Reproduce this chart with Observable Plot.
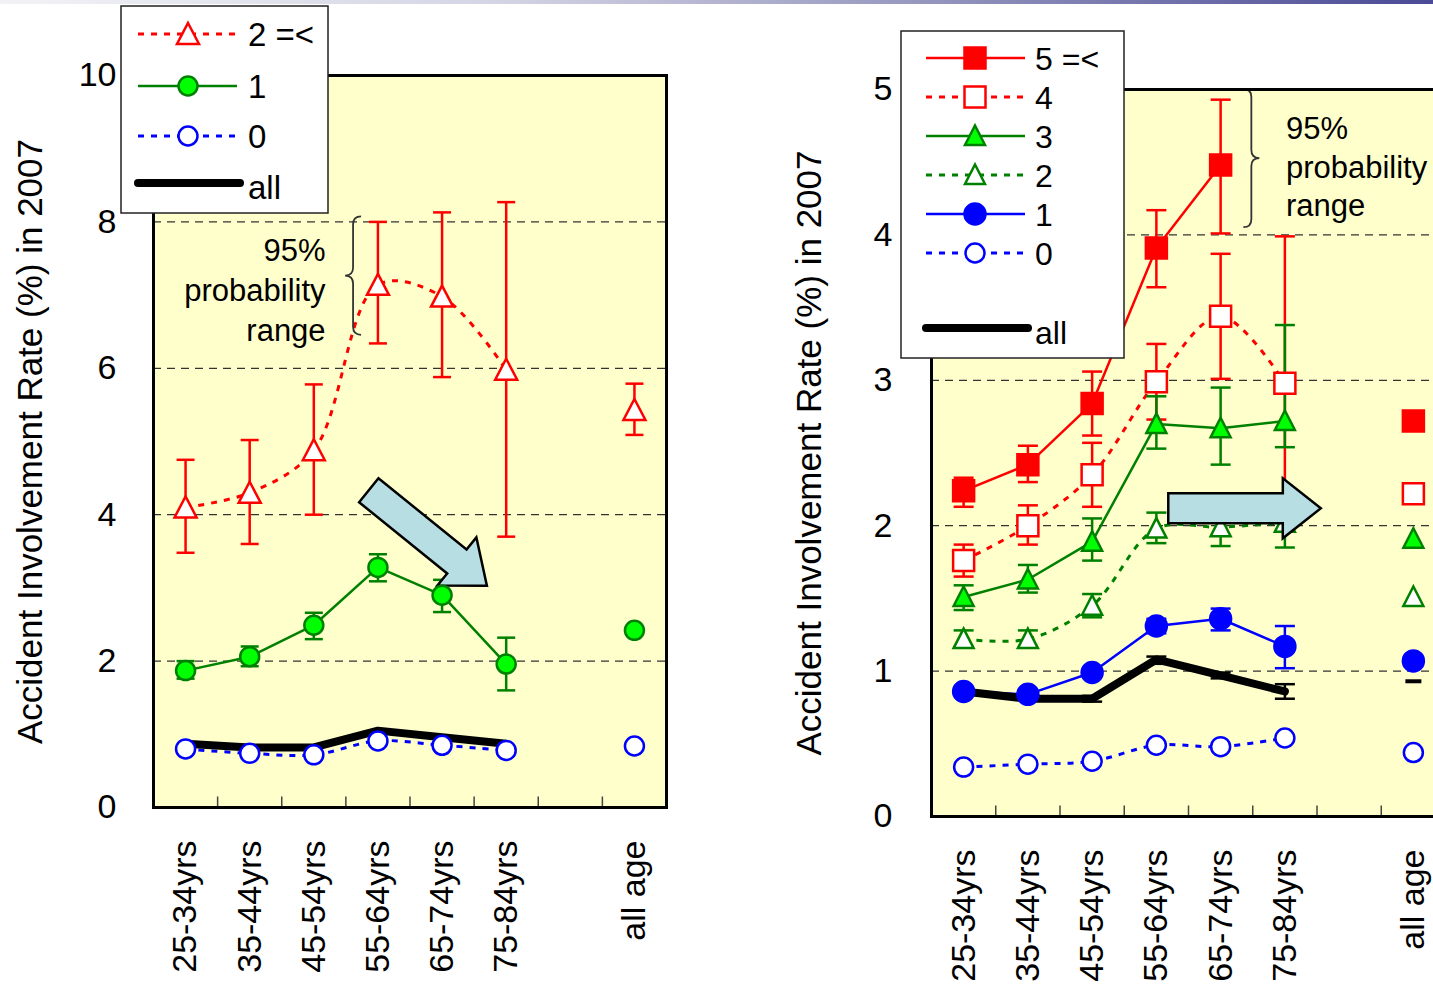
<!DOCTYPE html>
<html>
<head>
<meta charset="utf-8">
<script src="https://cdn.jsdelivr.net/npm/d3@7"></script>
<script src="https://cdn.jsdelivr.net/npm/@observablehq/plot@0.6"></script>
<style>
  html, body { margin: 0; padding: 0; background: white; overflow: hidden; }
  #wrap { position: relative; width: 1433px; height: 987px; overflow: hidden; font-family: "Liberation Sans", Arial, sans-serif; }
  #wrap > svg, #wrap > div { position: absolute; }
  #topbar { left: 0; top: 0; width: 1433px; height: 4px; z-index: 10;
    background: linear-gradient(to right, #f2f2f6 0%, #d4d4e4 35%, #8a8ab8 70%, #4a4a96 100%); }
</style>
</head>
<body>
<div id="wrap"><div id="topbar"></div></div>
<script>
// ---------------- DATA ----------------
const slots = ["25-34yrs", "35-44yrs", "45-54yrs", "55-64yrs", "65-74yrs", "75-84yrs", "", "all age"];
const yTitle = "Accident Involvement Rate (%) in 2007";
const noteText = "95%\nprobability\nrange";

// Left panel (violations: 2 =<, 1, 0, all)
const leftNames = ["2 =<", "1", "0", "all"];
const leftYTicks = [0, 2, 4, 6, 8, 10];
const leftGrid = [2, 4, 6, 8];
const l2Rate = [4.10, 4.30, 4.88, 7.14, 6.98, 5.98, null, 5.43];
const l2Lo   = [3.48, 3.60, 4.00, 6.34, 5.88, 3.70, null, 5.09];
const l2Hi   = [4.75, 5.02, 5.78, 8.00, 8.13, 8.27, null, 5.79];
const l1Rate = [1.87, 2.06, 2.49, 3.28, 2.90, 1.96, null, 2.42];
const l1Lo   = [1.76, 1.93, 2.30, 3.09, 2.67, 1.60, null, null];
const l1Hi   = [2.00, 2.20, 2.66, 3.46, 3.11, 2.32, null, null];
const l0Rate = [0.80, 0.74, 0.72, 0.91, 0.85, 0.78, null, 0.84];
const lAllRate = [0.87, 0.82, 0.82, 1.05, 0.96, 0.87, null, null];

// Right panel (5 =<, 4, 3, 2, 1, 0, all)
const rightNames = ["5 =<", "4", "3", "2", "1", "0", "all"];
const rightYTicks = [0, 1, 2, 3, 4, 5];
const rightGrid = [1, 2, 3, 4];
const r5Rate = [2.24, 2.42, 2.84, 3.91, 4.48, null, null, 2.72];
const r5Lo   = [2.13, 2.30, 2.62, 3.64, 4.01, null, null, null];
const r5Hi   = [2.33, 2.55, 3.06, 4.17, 4.93, null, null, null];
const r4Rate = [1.76, 2.00, 2.35, 2.99, 3.44, 2.98, null, 2.22];
const r4Lo   = [1.65, 1.87, 2.13, 2.73, 3.01, 1.97, null, null];
const r4Hi   = [1.87, 2.14, 2.57, 3.25, 3.87, 3.99, null, null];
const r3Rate = [1.51, 1.63, 1.89, 2.70, 2.67, 2.72, null, 1.91];
const r3Lo   = [1.42, 1.54, 1.76, 2.53, 2.42, 2.54, null, null];
const r3Hi   = [1.59, 1.73, 2.05, 2.89, 2.95, 3.38, null, null];
const r2Rate = [1.22, 1.22, 1.45, 1.98, 1.99, 2.02, null, 1.51];
const r2Lo   = [1.17, 1.17, 1.37, 1.88, 1.86, 1.85, null, null];
const r2Hi   = [1.28, 1.28, 1.53, 2.09, 2.12, 2.17, null, null];
const r1Rate = [0.86, 0.84, 0.99, 1.31, 1.36, 1.17, null, 1.07];
const r1Lo   = [null, null, null, 1.26, 1.28, 1.02, null, null];
const r1Hi   = [null, null, null, 1.36, 1.43, 1.31, null, null];
const r0Rate = [0.34, 0.36, 0.38, 0.49, 0.48, 0.54, null, 0.44];
const rAllRate = [0.86, 0.81, 0.81, 1.08, 0.97, 0.86, null, 0.93];
const rAllLo   = [null, null, 0.79, 1.05, 0.95, 0.81, null, null];
const rAllHi   = [null, null, 0.83, 1.10, 0.99, 0.91, null, null];

// ---------------- STYLES / SYMBOLS ----------------
const FONT = '"Liberation Sans", Arial, sans-serif';
const RED = "#FF0000", DGREEN = "#008000", LGREEN = "#00FF00", BLUE = "#0000FF";
const DOTS = "6,7";
const makeTri = (hw, top, bot) => ({draw(c) { c.moveTo(0, -top); c.lineTo(hw, bot); c.lineTo(-hw, bot); c.closePath(); }});
const makeSquare = (h) => ({draw(c) { c.moveTo(-h, -h); c.lineTo(h, -h); c.lineTo(h, h); c.lineTo(-h, h); c.closePath(); }});
const makeCircle = (r) => ({draw(c) { c.moveTo(r, 0); c.arc(0, 0, r, 0, 2 * Math.PI); c.closePath(); }});
const makeHBar = (h) => ({draw(c) { c.moveTo(-h, 0); c.lineTo(h, 0); }});
const makeVTick = (len) => ({draw(c) { c.moveTo(0, 0); c.lineTo(0, -len); }});

const triL = makeTri(11, 11, 10), circL = makeCircle(9.5), capL = makeHBar(9);
const triR = makeTri(10, 10.5, 9), sqR = makeSquare(10.5), circRF = makeCircle(10.5), circRH = makeCircle(9.5), capR = makeHBar(10);
const dashR = makeHBar(8);
const vtick = makeVTick(11);

const leftSeries = [
  {name: leftNames[0], rate: l2Rate, lo: l2Lo, hi: l2Hi, color: RED, dash: DOTS, width: 3, curve: "catmull-rom", sym: triL, fill: "white", mstroke: RED},
  {name: leftNames[1], rate: l1Rate, lo: l1Lo, hi: l1Hi, color: DGREEN, dash: null, width: 2.5, curve: "linear", sym: circL, fill: LGREEN, mstroke: DGREEN},
  {name: leftNames[2], rate: l0Rate, color: BLUE, dash: DOTS, width: 3, curve: "catmull-rom", sym: circL, fill: "white", mstroke: BLUE},
  {name: leftNames[3], rate: lAllRate, color: "black", dash: null, width: 8, curve: "linear", sym: null}
];
const rightSeries = [
  {name: rightNames[0], rate: r5Rate, lo: r5Lo, hi: r5Hi, color: RED, dash: null, width: 2.5, curve: "linear", sym: sqR, fill: RED, mstroke: RED},
  {name: rightNames[1], rate: r4Rate, lo: r4Lo, hi: r4Hi, color: RED, dash: DOTS, width: 3, curve: "catmull-rom", sym: sqR, fill: "white", mstroke: RED},
  {name: rightNames[2], rate: r3Rate, lo: r3Lo, hi: r3Hi, color: DGREEN, dash: null, width: 2.5, curve: "linear", sym: triR, fill: LGREEN, mstroke: DGREEN},
  {name: rightNames[3], rate: r2Rate, lo: r2Lo, hi: r2Hi, color: DGREEN, dash: DOTS, width: 3, curve: "catmull-rom", sym: triR, fill: "white", mstroke: DGREEN},
  {name: rightNames[4], rate: r1Rate, lo: r1Lo, hi: r1Hi, color: BLUE, dash: null, width: 2.5, curve: "linear", sym: circRF, fill: BLUE, mstroke: BLUE},
  {name: rightNames[5], rate: r0Rate, color: BLUE, dash: DOTS, width: 3, curve: "catmull-rom", sym: circRH, fill: "white", mstroke: BLUE},
  {name: rightNames[6], rate: rAllRate, lo: rAllLo, hi: rAllHi, color: "black", dash: null, width: 8, curve: "linear", sym: null, allSym: dashR, fill: "none", mstroke: "black", mwidth: 4}
];

// ---------------- HELPERS ----------------
function findScales(args) {
  return args.find(a => a && typeof a === "object" && !Array.isArray(a) && typeof a.x === "function" && typeof a.y === "function");
}
function arrowMark(tail, tip, o) {
  return function(...args) {
    const s = findScales(args); if (!s) return null;
    const x0 = s.x(tail[0]), y0 = s.y(tail[1]), x1 = s.x(tip[0]), y1 = s.y(tip[1]);
    const dx = x1 - x0, dy = y1 - y0, L = Math.hypot(dx, dy), ux = dx / L, uy = dy / L, nx = -uy, ny = ux;
    const bx = x1 - ux * o.headLen, by = y1 - uy * o.headLen;
    const pts = [
      [x0 + nx * o.shaft, y0 + ny * o.shaft], [bx + nx * o.shaft, by + ny * o.shaft],
      [bx + nx * o.head, by + ny * o.head], [x1, y1],
      [bx - nx * o.head, by - ny * o.head], [bx - nx * o.shaft, by - ny * o.shaft],
      [x0 - nx * o.shaft, y0 - ny * o.shaft]
    ];
    return d3.create("svg:path").attr("d", "M" + pts.map(p => p.join(",")).join("L") + "Z")
      .attr("fill", "#B7DEE3").attr("stroke", "black").attr("stroke-width", 2.5).attr("stroke-linejoin", "miter").node();
  };
}
function braceMark(xv, ytop, ybot, dir) {
  return function(...args) {
    const s = findScales(args); if (!s) return null;
    const x = s.x(xv), y1 = s.y(ytop), y2 = s.y(ybot), ym = (y1 + y2) / 2, w = 8;
    const d = `M${x - dir * w},${y1} Q${x},${y1} ${x},${y1 + w} L${x},${ym - w} Q${x},${ym} ${x + dir * w},${ym}` +
              ` Q${x},${ym} ${x},${ym + w} L${x},${y2 - w} Q${x},${y2} ${x - dir * w},${y2}`;
    return d3.create("svg:path").attr("d", d).attr("fill", "none").attr("stroke", "#333").attr("stroke-width", 1.8).node();
  };
}
function seriesLayers(series, cap) {
  const lines = [], bars = [], markers = [];
  for (const s of series) {
    const rows = slots.map((slot, i) => ({i, slot, v: s.rate[i] ?? null, lo: s.lo ? s.lo[i] ?? null : null, hi: s.hi ? s.hi[i] ?? null : null}));
    lines.push(Plot.line(rows.filter(r => r.i < 6), {
      x: "i", y: "v", stroke: s.color, strokeWidth: s.width, curve: s.curve,
      strokeDasharray: s.dash || undefined, strokeLinecap: s.dash ? "butt" : "round", strokeLinejoin: "round"
    }));
    const br = rows.filter(r => r.lo != null && r.hi != null);
    if (br.length) {
      bars.push(Plot.ruleX(br, {x: "i", y1: "lo", y2: "hi", stroke: s.color, strokeWidth: 2.5}));
      bars.push(Plot.dot(br, {x: "i", y: "lo", symbol: cap, fill: "none", stroke: s.color, strokeWidth: 2.5}));
      bars.push(Plot.dot(br, {x: "i", y: "hi", symbol: cap, fill: "none", stroke: s.color, strokeWidth: 2.5}));
    }
    if (s.sym) {
      markers.push(Plot.dot(rows.filter(r => r.v != null), {x: "i", y: "v", symbol: s.sym, fill: s.fill, stroke: s.mstroke, strokeWidth: 2.5}));
    } else if (s.allSym) {
      markers.push(Plot.dot(rows.filter(r => r.v != null && r.i === 7), {x: "i", y: "v", symbol: s.allSym, fill: "none", stroke: s.mstroke, strokeWidth: s.mwidth}));
    }
  }
  return {lines, bars, markers};
}
function panel(cfg) {
  const L = seriesLayers(cfg.series, cfg.cap);
  const marks = [
    Plot.frame({fill: "#FFFFCC", stroke: "none"}),
    Plot.ruleY(cfg.grid, {stroke: "#333", strokeDasharray: "8,6", strokeWidth: 1.2}),
    Plot.dot(slots.slice(0, -1), {x: (d, i) => i + 0.5, frameAnchor: "bottom", symbol: vtick, fill: "none", stroke: "#444", strokeWidth: 1.5}),
    ...L.lines, ...L.bars,
    ...(cfg.arrowBelow ? [cfg.arrow] : []),
    ...L.markers,
    ...(cfg.arrowBelow ? [] : [cfg.arrow]),
    cfg.brace,
    Plot.text([noteText], {x: cfg.note[0], y: cfg.note[1], text: d => d, textAnchor: cfg.noteAnchor, lineAnchor: "middle", lineHeight: cfg.noteLH, fontSize: 31}),
    Plot.text(slots, {x: (d, i) => i, frameAnchor: "bottom", text: d => d, rotate: -90, textAnchor: "end", lineAnchor: "middle", dy: 33, fontSize: 34}),
    Plot.text([yTitle], {frameAnchor: "left", text: d => d, rotate: -90, textAnchor: "middle", lineAnchor: "middle", dx: cfg.titleDx, fontSize: 35}),
    Plot.frame({stroke: "black", strokeWidth: 3})
  ];
  const svg = Plot.plot({
    width: cfg.width, height: 987,
    marginLeft: cfg.ml, marginRight: cfg.mr, marginTop: cfg.mt, marginBottom: cfg.mb,
    style: {fontFamily: FONT, fontSize: "34px", color: "black", background: "transparent", overflow: "visible"},
    x: {domain: [-0.5, 7.5], axis: null},
    y: {domain: cfg.ydomain, ticks: cfg.yticks, tickSize: 0, tickPadding: cfg.tickPad, label: null, tickFormat: d => String(d)},
    marks
  });
  svg.style.left = cfg.left + "px";
  svg.style.top = "0px";
  return svg;
}

const wrap = document.getElementById("wrap");
wrap.appendChild(panel({
  series: leftSeries, cap: capL, grid: leftGrid, yticks: leftYTicks, ydomain: [0, 10],
  width: 720, left: 0, ml: 153, mr: 54, mt: 75, mb: 180, tickPad: 37, titleDx: -123,
  arrow: arrowMark([2.865, 4.327], [4.707, 3.023], {shaft: 15.4, head: 31, headLen: 38.6}), arrowBelow: true,
  brace: braceMark(2.62, 8.07, 6.45, -1),
  note: [2.184, 7.09], noteAnchor: "end", noteLH: 1.29
}));
wrap.appendChild(panel({
  series: rightSeries, cap: capR, grid: rightGrid, yticks: rightYTicks, ydomain: [0, 5],
  width: 720, left: 740, ml: 191, mr: 15, mt: 89, mb: 171, tickPad: 39, titleDx: -122,
  arrow: arrowMark([3.193, 2.117], [5.567, 2.116], {shaft: 15, head: 30, headLen: 38}), arrowBelow: false,
  brace: braceMark(4.486, 5.0, 4.05, 1),
  note: [5.016, 4.48], noteAnchor: "start", noteLH: 1.25
}));

// ---------------- LEGENDS ----------------
const leg = d3.select(wrap).append("svg").attr("width", 1433).attr("height", 987).style("left", "0px").style("top", "0px").style("z-index", 5);
function legend(series, box, ys, lx1, lx2, mx, tx, fontSize) {
  const g = leg.append("g").attr("font-family", FONT).attr("font-size", fontSize);
  g.append("rect").attr("x", box[0]).attr("y", box[1]).attr("width", box[2]).attr("height", box[3])
    .attr("fill", "white").attr("stroke", "#222").attr("stroke-width", 1.5);
  series.forEach((s, k) => {
    const y = ys[k];
    if (s.sym) {
      g.append("line").attr("x1", lx1).attr("x2", lx2).attr("y1", y).attr("y2", y)
        .attr("stroke", s.color).attr("stroke-width", s.width).attr("stroke-dasharray", s.dash || null);
      g.append("path").attr("d", d3.symbol().type(s.sym)()).attr("transform", `translate(${mx},${y})`)
        .attr("fill", s.fill).attr("stroke", s.mstroke).attr("stroke-width", 2.5);
    } else {
      g.append("line").attr("x1", lx1).attr("x2", lx2 + 3).attr("y1", y).attr("y2", y)
        .attr("stroke", "black").attr("stroke-width", 8).attr("stroke-linecap", "round");
    }
    g.append("text").attr("x", tx).attr("y", s.sym ? y + 12 : y + 16).text(s.name);
  });
}
legend(leftSeries, [121, 6, 207, 207], [34, 86, 136, 183], 138, 237, 188, 248, 33);
legend(rightSeries, [901, 31, 223, 327], [58, 97, 136, 175, 214, 253, 328], 926, 1025, 975, 1035, 32);
</script>
</body>
</html>
